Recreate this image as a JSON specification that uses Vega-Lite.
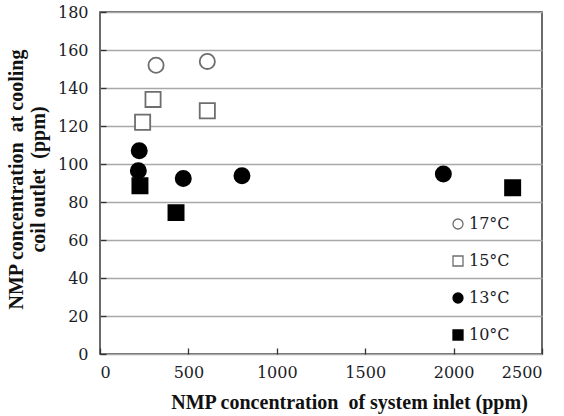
{
  "$schema": "https://vega.github.io/schema/vega-lite/v6.json",
  "width": 442,
  "height": 342,
  "autosize": {"type": "none"},
  "padding": {"left": 100, "top": 12, "right": 22, "bottom": 62},
  "background": "white",
  "config": {
    "view": {"stroke": "#3a3a3a", "strokeWidth": 1.5},
    "font": "Liberation Serif",
    "axis": {
      "labelFont": "DejaVu Serif",
      "titleFont": "Liberation Serif",
      "labelColor": "#1c1c28",
      "titleColor": "#111111",
      "labelFontSize": 16,
      "titleFontSize": 20,
      "titleFontWeight": "bold",
      "domain": false,
      "tickColor": "#333333",
      "tickWidth": 1.3
    },
    "legend": {
      "labelFont": "DejaVu Serif",
      "labelFontSize": 16,
      "labelColor": "#1c1c28"
    }
  },
  "data": {
    "values": [
      {"inlet": 317, "outlet": 152, "temp": "17°C"},
      {"inlet": 607, "outlet": 154, "temp": "17°C"},
      {"inlet": 300, "outlet": 134, "temp": "15°C"},
      {"inlet": 607, "outlet": 128, "temp": "15°C"},
      {"inlet": 241, "outlet": 122, "temp": "15°C"},
      {"inlet": 222, "outlet": 107, "temp": "13°C"},
      {"inlet": 217, "outlet": 96.5, "temp": "13°C"},
      {"inlet": 471, "outlet": 92.4, "temp": "13°C"},
      {"inlet": 803, "outlet": 93.8, "temp": "13°C"},
      {"inlet": 1942, "outlet": 94.7, "temp": "13°C"},
      {"inlet": 226, "outlet": 88.6, "temp": "10°C"},
      {"inlet": 430, "outlet": 74.4, "temp": "10°C"},
      {"inlet": 2334, "outlet": 87.5, "temp": "10°C"}
    ]
  },
  "mark": {"type": "point", "filled": true, "size": 230, "strokeWidth": 1.8, "opacity": 1},
  "encoding": {
    "x": {
      "field": "inlet",
      "type": "quantitative",
      "scale": {"domain": [0, 2500], "nice": false},
      "axis": {
        "values": [0, 500, 1000, 1500, 2000, 2500],
        "format": "d",
        "grid": false,
        "tickSize": -6,
        "labelPadding": 16,
        "title": "NMP concentration\u00a0 of system inlet (ppm)",
        "titleX": 249,
        "titleY": 54,
        "titleBaseline": "alphabetic",
        "titleAlign": "center"
      }
    },
    "y": {
      "field": "outlet",
      "type": "quantitative",
      "scale": {"domain": [0, 180], "nice": false},
      "axis": {
        "values": [0, 20, 40, 60, 80, 100, 120, 140, 160, 180],
        "format": "d",
        "grid": true,
        "gridColor": "#a8a8a8",
        "gridWidth": 1.4,
        "tickSize": -6,
        "labelPadding": 18,
        "title": ["NMP concentration\u00a0 at cooling", "coil outlet\u00a0 (ppm)"],
        "titleAngle": -90,
        "titleX": -94,
        "titleY": 167,
        "titleAlign": "center",
        "titleBaseline": "top",
        "titleLineHeight": 22
      }
    },
    "shape": {
      "field": "temp",
      "type": "nominal",
      "scale": {"domain": ["17°C", "15°C", "13°C", "10°C"], "range": ["circle", "square", "circle", "square"]},
      "legend": {
        "title": null,
        "orient": "none",
        "legendX": 350,
        "legendY": 204,
        "padding": 0,
        "symbolSize": 100,
        "symbolStrokeWidth": 1.3,
        "labelOffset": 3,
        "rowPadding": 21
      }
    },
    "fill": {
      "field": "temp",
      "type": "nominal",
      "scale": {"domain": ["17°C", "15°C", "13°C", "10°C"], "range": ["white", "white", "black", "black"]},
      "legend": {
        "title": null,
        "orient": "none",
        "legendX": 350,
        "legendY": 204,
        "padding": 0,
        "symbolSize": 100,
        "symbolStrokeWidth": 1.3,
        "labelOffset": 3,
        "rowPadding": 21
      }
    },
    "stroke": {
      "field": "temp",
      "type": "nominal",
      "scale": {"domain": ["17°C", "15°C", "13°C", "10°C"], "range": ["#6e6e6e", "#6e6e6e", "black", "black"]},
      "legend": {
        "title": null,
        "orient": "none",
        "legendX": 350,
        "legendY": 204,
        "padding": 0,
        "symbolSize": 100,
        "symbolStrokeWidth": 1.3,
        "labelOffset": 3,
        "rowPadding": 21
      }
    }
  }
}
